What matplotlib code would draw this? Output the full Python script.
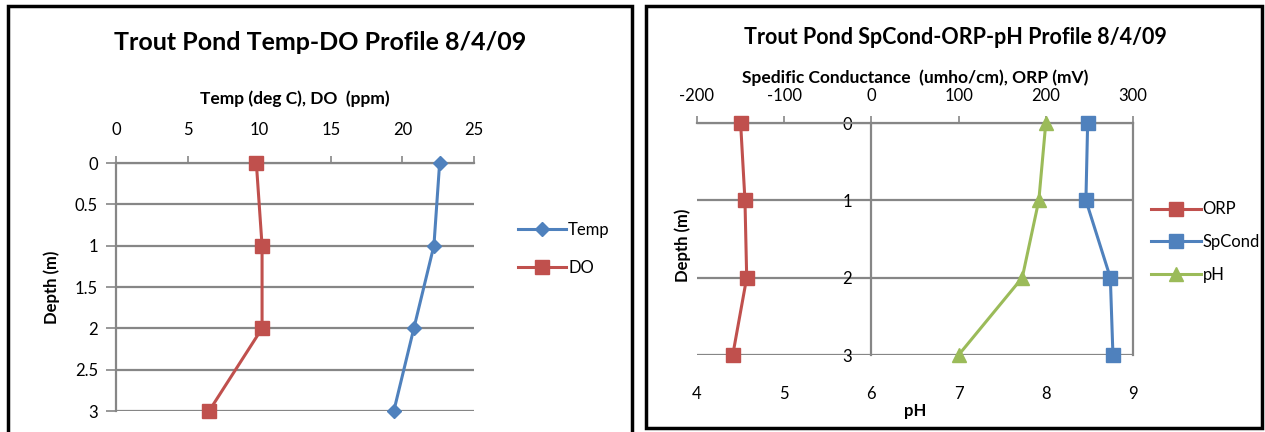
import matplotlib
matplotlib.use("Agg")
import matplotlib.pyplot as plt
from matplotlib.patches import Rectangle

plt.rcParams['font.family'] = ['Lato', 'DejaVu Sans']
plt.rcParams['axes.unicode_minus'] = False

# data
depth = [0, 1, 2, 3]
temp = [22.6, 22.2, 20.8, 19.4]
do = [9.8, 10.2, 10.2, 6.5]
orp = [-150, -145, -143, -159]
spcond = [248, 246, 274, 277]
ph = [8.0, 7.92, 7.73, 7.0]

blue = '#4F81BD'
red = '#C0504D'
green = '#9BBB59'
grid = '#868686'

W, H = 1265, 432
fig = plt.figure(figsize=(W / 100, H / 100), dpi=100)


def box(x0, y0, x1, y1):
    # pixel box (top-left origin) -> figure fraction
    return [x0 / W, 1 - y1 / H, (x1 - x0) / W, (y1 - y0) / H]


# panel borders
fig.patches.append(Rectangle((8 / W, 1 - 445 / H), 624 / W, 439 / H, transform=fig.transFigure,
                             fill=False, ec='black', lw=2.5))
fig.patches.append(Rectangle((646 / W, 1 - 428 / H), 616 / W, 422 / H, transform=fig.transFigure,
                             fill=False, ec='black', lw=2.5))

## left chart
ax = fig.add_axes(box(116, 163, 474, 411))
ax.plot(temp, depth, color=blue, lw=2.2, marker='D', ms=7.5, label='Temp', clip_on=False, zorder=3)
ax.plot(do, depth, color=red, lw=2.2, marker='s', ms=9.5, label='DO', clip_on=False, zorder=3)
ax.set_xlim(0, 25)
ax.set_ylim(3, 0)
ax.set_xticks([0, 5, 10, 15, 20, 25])
ax.set_yticks([0, 0.5, 1, 1.5, 2, 2.5, 3])
ax.set_yticklabels(['0', '0.5', '1', '1.5', '2', '2.5', '3'])
ax.xaxis.tick_top()
ax.xaxis.set_label_position('top')
ax.tick_params(axis='x', direction='out', length=5, width=1.2, color=grid, pad=13, labelsize=12)
ax.tick_params(axis='y', direction='out', length=7, width=1.2, color=grid, pad=6, labelsize=12)
ax.yaxis.grid(True, color=grid, lw=1.6)
ax.set_axisbelow(True)
for s in ['right', 'bottom']:
    ax.spines[s].set_visible(False)
for s in ['left', 'top']:
    ax.spines[s].set_color(grid)
    ax.spines[s].set_linewidth(1.6)
ax.set_xlabel('Temp (deg C), DO  (ppm)', fontsize=12.5, fontweight='bold', labelpad=13)
ax.set_ylabel('Depth (m)', fontsize=12, fontweight='bold', labelpad=11)
ax.legend(loc='center left', bbox_to_anchor=(503 / W, 1 - 249 / H), bbox_transform=fig.transFigure,
          frameon=False, fontsize=12, handlelength=2.9, handletextpad=0.1, labelspacing=1.3)
fig.text(320 / W, 1 - 42 / H, 'Trout Pond Temp-DO Profile 8/4/09', ha='center', va='center',
         fontsize=18, fontweight='bold')

## right chart
ax2 = fig.add_axes(box(697, 123, 1133, 355))
ax3 = ax2.twiny()
l1, = ax2.plot(orp, depth, color=red, lw=2.2, marker='s', ms=10, label='ORP', clip_on=False, zorder=3)
l2, = ax2.plot(spcond, depth, color=blue, lw=2.2, marker='s', ms=9.5, label='SpCond', clip_on=False, zorder=3)
ax2.set_xlim(-200, 300)
ax2.set_ylim(3, 0)
ax2.set_xticks([-200, -100, 0, 100, 200, 300])
ax2.set_yticks([0, 1, 2, 3])
ax2.xaxis.tick_top()
ax2.xaxis.set_label_position('top')
ax2.tick_params(axis='x', direction='out', length=5, width=1.2, color=grid, pad=9, labelsize=12)
ax2.tick_params(axis='y', length=0, pad=14, labelsize=12)
ax2.yaxis.grid(True, color=grid, lw=1.6)
ax2.set_axisbelow(True)
ax2.spines['left'].set_position(('data', 0))
for s in ['left', 'right', 'top']:
    ax2.spines[s].set_color(grid)
    ax2.spines[s].set_linewidth(1.6)
ax2.spines['bottom'].set_visible(False)
ax2.set_xlabel('Spedific Conductance  (umho/cm), ORP (mV)', fontsize=12.5, fontweight='bold', labelpad=3)
ax2.set_ylabel('Depth (m)', fontsize=12, fontweight='bold')
ax2.yaxis.set_label_coords((691 - 697) / 436, (355 - 245) / 232)

l3, = ax3.plot(ph, depth, color=green, lw=2.2, marker='^', ms=10, label='pH', clip_on=False, zorder=3)
ax3.set_xlim(4, 9)
ax3.set_xticks([4, 5, 6, 7, 8, 9])
ax3.xaxis.tick_bottom()
ax3.xaxis.set_label_position('bottom')
ax3.tick_params(axis='x', length=0, pad=22, labelsize=12)
for s in ax3.spines.values():
    s.set_visible(False)
ax3.set_xlabel('pH', fontsize=12, fontweight='bold', labelpad=1)

ax3.legend([l1, l2, l3], ['ORP', 'SpCond', 'pH'], loc='center left',
           bbox_to_anchor=(1136 / W, 1 - 242 / H), bbox_transform=fig.transFigure,
           frameon=False, fontsize=12, handlelength=3.0, handletextpad=0.1, labelspacing=1.0)
fig.text(955 / W, 1 - 38 / H, 'Trout Pond SpCond-ORP-pH Profile 8/4/09', ha='center', va='center',
         fontsize=15.5, fontweight='bold')

fig.savefig('out.png', dpi=100)
